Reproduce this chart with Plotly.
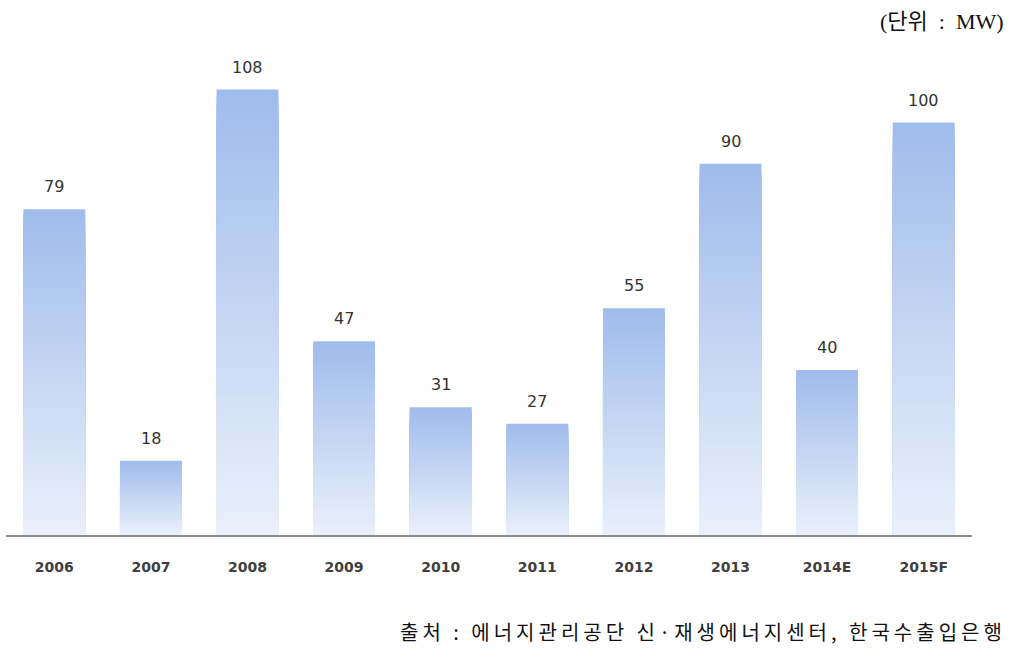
import plotly.graph_objects as go

categories = ["2006", "2007", "2008", "2009", "2010", "2011", "2012", "2013", "2014E", "2015F"]
values = [79, 18, 108, 47, 31, 27, 55, 90, 40, 100]
unit_text = "(단위  :  MW)"
source_text = "출처 : 에너지관리공단 신·재생에너지센터, 한국수출입은행"

top_rgb = (160, 188, 235)
bottom_rgb = (233, 240, 251)
N = 60

fig = go.Figure()
for k in range(N):
    frac = (N - k) / N
    t = k / (N - 1)
    c = tuple(round(top_rgb[i] + (bottom_rgb[i] - top_rgb[i]) * t) for i in range(3))
    fig.add_trace(go.Bar(
        x=categories,
        y=[v * frac for v in values],
        marker=dict(color=f"rgb{c}", line=dict(width=0)),
        width=0.64,
        hoverinfo="skip",
        showlegend=False,
    ))

for i, v in enumerate(values):
    fig.add_annotation(
        x=i, y=v, text=str(v), showarrow=False,
        yanchor="bottom", yshift=11,
        font=dict(family="DejaVu Sans", size=16, color="#333333"),
    )

plot_w = 1021 - 6 - 49
plot_h = 660 - 40 - 125
fig.add_annotation(
    xref="paper", yref="paper", x=(1006 - 6) / plot_w, y=(535 - 22) / plot_h,
    xanchor="right", yanchor="middle", text=unit_text, showarrow=False,
    font=dict(family="Liberation Serif, Noto Sans CJK KR", size=22, color="#111111"),
)
fig.add_annotation(
    xref="paper", yref="paper", x=(1008 - 6) / plot_w, y=(535 - 631) / plot_h,
    xanchor="right", yanchor="middle",
    text=f'<span style="letter-spacing:4px">{source_text}</span>', showarrow=False,
    font=dict(family="Noto Sans CJK KR", size=20, color="#111111"),
)

fig.update_layout(
    barmode="overlay",
    width=1021, height=660,
    margin=dict(l=6, r=49, t=40, b=125),
    paper_bgcolor="white", plot_bgcolor="white",
    xaxis=dict(
        type="category", range=[-0.5, len(categories) - 0.5],
        showline=True, linecolor="#8c8c8c", linewidth=1.5,
        showgrid=False, ticks="", ticklabelstandoff=18,
        tickfont=dict(family="DejaVu Sans", size=14, color="#404040", weight="bold"),
        fixedrange=True,
    ),
    yaxis=dict(range=[0, 120], visible=False, showgrid=False, fixedrange=True),
)

fig.write_html("out.html")
